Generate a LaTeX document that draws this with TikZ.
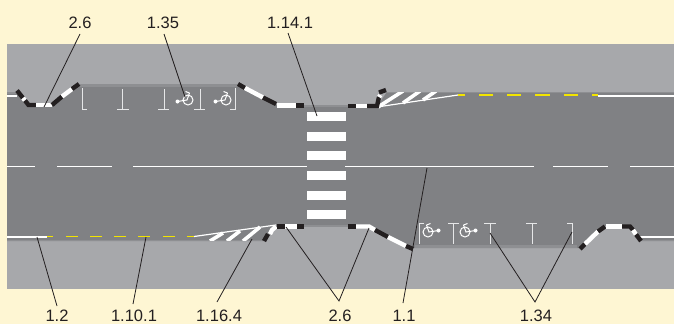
\documentclass[tikz,border=0pt]{standalone}
\usepackage{fontspec}
\setmainfont{Liberation Sans}
\definecolor{bgc}{HTML}{FEF6D3}
\definecolor{walk}{HTML}{A7A8AB}
\definecolor{road}{HTML}{808184}
\definecolor{strip}{HTML}{8E8F92}
\definecolor{ink}{HTML}{231F20}
\definecolor{mark}{HTML}{E6E7E8}
\definecolor{yel}{HTML}{F2E400}
\tikzset{
  lbl/.style={font=\fontsize{16.5}{17}\selectfont,text=ink,inner sep=0pt},
  leader/.style={draw=ink,line width=0.8pt},
  kb/.style={draw=ink,line width=4.4pt},
  kw/.style={draw=white,line width=4.4pt},
  park/.style={draw=mark,line width=1pt},
  wheel/.style={draw=white,line width=1pt},
  hatch/.style={draw=white,line width=3.6pt},
  edge/.style={draw=white,line width=1.2pt},
  solidedge/.style={draw=white,line width=1.6pt},
  ydash/.style={draw=yel,line width=1.3pt},
  centre/.style={draw=white,line width=1.2pt},
  zebra/.style={fill=white}
}
\begin{document}
\begin{tikzpicture}[x=1pt,y=-1pt]
\useasboundingbox (0,0) rectangle (674,324);
\fill[bgc] (0,0) rectangle (674,324);
\fill[walk] (7,44) rectangle (674,289);
% carriageway
\fill[road] (7,92) -- (17,92) -- (28,105) -- (52,105) -- (78,84) -- (240,84) -- (277,105)
  -- (377,106) -- (387,92) -- (674,92) -- (674,241) -- (642,241) -- (630,226) -- (605,226)
  -- (579,248) -- (413,248) -- (370,226) -- (277,226) -- (264,241) -- (7,241) -- cycle;
% darker strips beside the parking bays
\fill[strip] (78,84) rectangle (240,87);
\fill[strip] (415,245) rectangle (577,248);
\fill[strip] (7,239.6) rectangle (262,241);
\fill[strip] (640,239.6) rectangle (674,241);
\fill[strip] (387,92) rectangle (674,93);
\fill[strip] (7,92) rectangle (17,94);
\fill[strip] (277,105) rectangle (377,107);
\fill[strip] (277,225) rectangle (370,226.5);
% zebra crossing
\foreach \yy in {112,131.7,151.3,171,190.7,210.4}
  \fill[zebra] (307,\yy) rectangle (345.5,\yy+9);
% centre line
\foreach \a/\b in {7/35,57/111.7,133/307,345/534,553/608,630/674}
  \draw[centre] (\a,166.3) -- (\b,166.3);
% edge lines
\draw[solidedge] (7,95.7) -- (17,95.7);
\draw[solidedge] (598,96) -- (674,96);
\draw[solidedge] (7,236.7) -- (47,236.7);
\draw[solidedge] (640,237) -- (674,237);
\foreach \a/\b in {458/465,479/493,507/521,535/550,564/578,592/598}
  \draw[ydash] (\a,95) -- (\b,95);
\foreach \a/\b in {47/53,66/78,90/102,114/126,138/150,163/175,187/194}
  \draw[ydash] (\a,236.6) -- (\b,236.6);
% hatched transitions
\begin{scope}
\clip (377,92) rectangle (470,108);
\draw[hatch] (378,107) -- (403,91);
\draw[hatch] (403,103) -- (420,91);
\draw[hatch] (423,100) -- (436,91);
\end{scope}
\draw[edge] (377,107) -- (458,95);
\begin{scope}
\clip (190,224) rectangle (280,240.6);
\draw[hatch] (210,241) -- (223,233);
\draw[hatch] (227,241) -- (240,231);
\draw[hatch] (243,241) -- (260,227);
\end{scope}
\draw[edge] (194,236.5) -- (276,225);
% top kerbs
\draw[kb] (17,90.5) -- (23,98);
\draw[kw] (23,98) -- (25,100.5);
\draw[kb] (25,100.5) -- (28.5,105) -- (36,105);
\draw[kw] (36,105) -- (52,105);
\draw[kb] (52,105) -- (62,96.5);
\draw[kw] (62,96.5) -- (72,89);
\draw[kb] (72,89) -- (79,84);
\draw[kb] (238,84) -- (245,88);
\draw[kw] (245,88) -- (263,97.5);
\draw[kb] (263,97.5) -- (276,104);
\draw[kw] (277,105.5) -- (296,105.5);
\draw[kb] (296,105.5) -- (304,105.5);
\draw[kb] (348,106) -- (356,106);
\draw[kw] (356,106) -- (367,106);
\draw[kb] (367,106) -- (377,106) -- (379,97);
\draw[kw] (379,97) -- (380.5,95);
\draw[kb] (379,92.5) -- (386,90);
% bottom kerbs
\draw[kb] (264,241) -- (268,234);
\draw[kw] (270,234) -- (272,230) -- (276,226.5);
\draw[kb] (277,226.5) -- (285,226.5);
\draw[kw] (285,226.5) -- (297,226.5);
\draw[kb] (297,226.5) -- (304,226.5);
\draw[kb] (348,226.5) -- (356,226.5);
\draw[kw] (356,226.5) -- (369,226.5) -- (375,230);
\draw[kb] (375,230) -- (388,237);
\draw[kw] (388,237) -- (406,246);
\draw[kb] (406,246) -- (413,249);
\draw[kb] (580,249) -- (585,244);
\draw[kw] (585,244) -- (598,231.5);
\draw[kb] (598,231.5) -- (605,226.5);
\draw[kw] (606,226.5) -- (622,226.5);
\draw[kb] (622,226.5) -- (630,226.5) -- (633,230);
\draw[kw] (633,230) -- (636,234.5);
\draw[kb] (636,234.5) -- (641,241);
% parking bays, top
\draw[park] (82,88) -- (82,109) -- (87,109);
\draw[park] (122.7,89) -- (122.7,109) (117,109) -- (129,109);
\draw[park] (164,89) -- (164,109) (158,109) -- (169,109);
\draw[park] (200,89) -- (200,109) (194,109) -- (205,109);
\draw[park] (230,109) -- (235,109) -- (235,88);
% parking bays, bottom
\draw[park] (424,223) -- (419,223) -- (419,243.5);
\draw[park] (453,223) -- (453,243.5) (448,223) -- (459,223);
\draw[park] (490,223) -- (490,243.5) (484,223) -- (496,223);
\draw[park] (532,223) -- (532,243.5) (526,223) -- (537,223);
\draw[park] (567,223) -- (572,223) -- (572,243.5);
% wheelchair symbols
\foreach \cx/\cy/\dx in {188/100/-1,226/100/-1,428/232/1,465/232/1}{
  \draw[wheel] (\cx,\cy) circle[radius=5];
  \fill[white] ({\cx+\dx*10.5},{\cy-\dx*1.5}) circle[radius=2];
  \draw[wheel] ({\cx+\dx*10.5},{\cy-\dx*1.5}) -- ({\cx+\dx*1},\cy) -- ({\cx-\dx*1.5},\cy-7);
  \draw[wheel] ({\cx-\dx*1.5},\cy-7) -- ({\cx+\dx*2.5},\cy-8.5);
}
% labels and leaders
\node[lbl] (a) at (80,23) {2.6};
\node[lbl] (b) at (163,23) {1.35};
\node[lbl] (c) at (290,23) {1.14.1};
\node[lbl] (d) at (57,316) {1.2};
\node[lbl] (e) at (134,316) {1.10.1};
\node[lbl] (f) at (219,316) {1.16.4};
\node[lbl] (g) at (340,316) {2.6};
\node[lbl] (h) at (404,316) {1.1};
\node[lbl] (i) at (536,316) {1.34};
\coordinate (ta) at (44,107);
\coordinate (tb) at (185,97);
\coordinate (tc) at (317,116);
\coordinate (td) at (37,237);
\coordinate (te) at (146,237);
\coordinate (tf) at (252,239);
\coordinate (tg1) at (286,227);
\coordinate (tg2) at (369,228);
\coordinate (th) at (427,168);
\coordinate (ti1) at (490,233);
\coordinate (ti2) at (572,232);
\coordinate (aa) at (80,34);
\coordinate (ab) at (164,34);
\coordinate (ac) at (288,33);
\coordinate (ad) at (57,306);
\coordinate (ae) at (133,304);
\coordinate (af) at (217,302);
\coordinate (ag) at (339,301);
\coordinate (ah) at (403,303);
\coordinate (ai) at (535,302);
\draw[leader] (aa) -- (ta);
\draw[leader] (ab) -- (tb);
\draw[leader] (ac) -- (tc);
\draw[leader] (ad) -- (td);
\draw[leader] (ae) -- (te);
\draw[leader] (af) -- (tf);
\draw[leader] (tg1) -- (ag) -- (tg2);
\draw[leader] (ah) -- (th);
\draw[leader] (ti1) -- (ai) -- (ti2);
\end{tikzpicture}
\end{document}
